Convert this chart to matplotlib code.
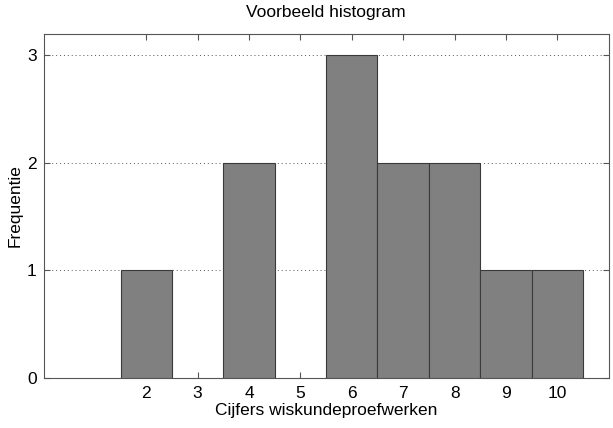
import matplotlib
matplotlib.use('Agg')
import matplotlib.pyplot as plt

plt.rcParams['font.family'] = ['Liberation Sans', 'DejaVu Sans']

cijfers = [2, 4, 6, 7, 8, 9, 10]
frequentie = [1, 2, 3, 2, 2, 1, 1]

fig = plt.figure(figsize=(6.13, 4.28), dpi=100)
ax = fig.add_axes([0.071, 0.117, 0.922, 0.804])

ax.bar(cijfers, frequentie, width=1.0, color='#808080', edgecolor='#3a3a3a', linewidth=0.8, zorder=3)

ax.set_xlim(0, 11)
ax.set_ylim(0, 3.2)
ax.set_xticks(range(2, 11))
ax.set_yticks([0, 1, 2, 3])
ax.tick_params(direction='in', top=True, right=True, labelsize=12.5, length=4, color='#555555', pad=6)
ax.tick_params(axis='y', pad=5)
ax.grid(axis='y', linestyle=(0, (1, 3)), color='#555555', linewidth=0.7, zorder=1)
for s in ax.spines.values():
    s.set_color('#555555')

ax.set_title('Voorbeeld histogram', fontsize=12.5, pad=12)
ax.set_xlabel('Cijfers wiskundeproefwerken', fontsize=12.5, labelpad=1)
ax.set_ylabel('Frequentie', fontsize=12.5, labelpad=3)

plt.savefig('out.png')
